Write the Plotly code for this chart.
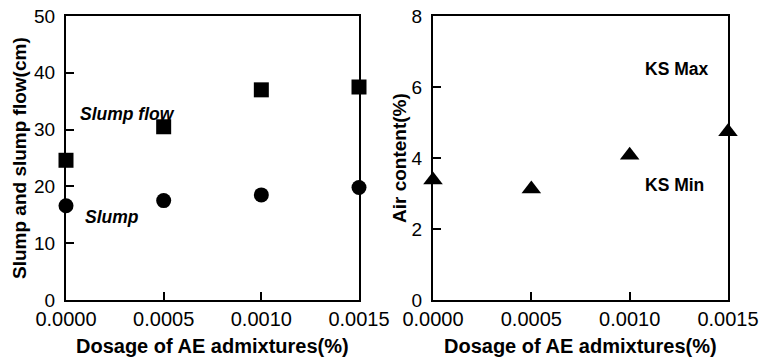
import plotly.graph_objects as go

# AE admixture dosage (%)
dosage = [0.0, 0.0005, 0.0010, 0.0015]
# Slump flow and slump (cm)
slump_flow = [24.6, 30.5, 37.0, 37.5]
slump = [16.6, 17.5, 18.5, 19.8]
# Air content (%)
air_content = [3.38, 3.13, 4.08, 4.74]

x_ticks = [0.0, 0.0005, 0.0010, 0.0015]
x_ticklabels = ["0.0000", "0.0005", "0.0010", "0.0015"]

W, H = 770, 359
FONT = "Liberation Sans, Arial, sans-serif"

fig = go.Figure()

fig.add_trace(go.Scatter(x=dosage, y=slump_flow, mode="markers",
                         marker=dict(symbol="square", size=15, color="black"),
                         xaxis="x", yaxis="y", cliponaxis=False))
fig.add_trace(go.Scatter(x=dosage, y=slump, mode="markers",
                         marker=dict(symbol="circle", size=15, color="black"),
                         xaxis="x", yaxis="y", cliponaxis=False))
fig.add_trace(go.Scatter(x=dosage, y=air_content, mode="markers",
                         marker=dict(symbol="triangle-up", size=17, color="black"),
                         xaxis="x2", yaxis="y2", cliponaxis=False))

def px_x(p):
    return p / W

def px_y(p):
    return 1 - p / H

axis_common = dict(showline=True, linecolor="black", linewidth=2, mirror=True,
                   ticks="inside", ticklen=8, tickwidth=2, tickcolor="black",
                   showgrid=False, zeroline=False, automargin=False)
xtick_font = dict(family=FONT, size=20, color="black")
ytick_font = dict(family=FONT, size=19, color="black")

fig.update_layout(
    width=W, height=H,
    margin=dict(l=0, r=0, t=0, b=0),
    paper_bgcolor="white", plot_bgcolor="white",
    showlegend=False,
    xaxis=dict(domain=[px_x(66), px_x(359)], range=[0, 0.0015], tickfont=xtick_font,
               tickvals=x_ticks, ticktext=x_ticklabels, anchor="y", **axis_common),
    yaxis=dict(domain=[px_y(300), px_y(16)], range=[0, 50], tickfont=ytick_font,
               ticklabelstandoff=5,
               tickvals=[0, 10, 20, 30, 40, 50], anchor="x", **axis_common),
    xaxis2=dict(domain=[px_x(433), px_x(728)], range=[0, 0.0015], tickfont=xtick_font,
                tickvals=x_ticks, ticktext=x_ticklabels, anchor="y2", **axis_common),
    yaxis2=dict(domain=[px_y(300), px_y(16)], range=[0, 8], tickfont=ytick_font,
                ticklabelstandoff=5,
                tickvals=[0, 2, 4, 6, 8], anchor="x2", **axis_common),
)

# Axis titles
title_font = dict(family=FONT, size=20, color="black", weight="bold")
for xc, txt in [(213, "Dosage of AE admixtures(%)"), (580, "Dosage of AE admixtures(%)")]:
    fig.add_annotation(x=px_x(xc), y=px_y(346), xref="paper", yref="paper", text=txt,
                       showarrow=False, xanchor="center", yanchor="middle", font=title_font)
ytitle_font = dict(family=FONT, size=19, color="black", weight="bold")
for xc, txt in [(19, "Slump and slump flow(cm)"), (399, "Air content(%)")]:
    fig.add_annotation(x=px_x(xc), y=px_y(158), xref="paper", yref="paper", text=txt,
                       textangle=-90, showarrow=False, xanchor="center", yanchor="middle",
                       font=ytitle_font)

# Series and limit labels
label_font = dict(family=FONT, size=17.5, color="black", weight="bold")
fig.add_annotation(x=0.00006, y=32.7, xref="x", yref="y", text="<i>Slump flow</i>",
                   showarrow=False, xanchor="left", font=label_font)
fig.add_annotation(x=0.000085, y=14.6, xref="x", yref="y", text="<i>Slump</i>",
                   showarrow=False, xanchor="left", font=label_font)
fig.add_annotation(x=0.00107, y=6.5, xref="x2", yref="y2", text="KS Max",
                   showarrow=False, xanchor="left", font=label_font)
fig.add_annotation(x=0.00107, y=3.24, xref="x2", yref="y2", text="KS Min",
                   showarrow=False, xanchor="left", font=label_font)

fig.write_html("out.html")
